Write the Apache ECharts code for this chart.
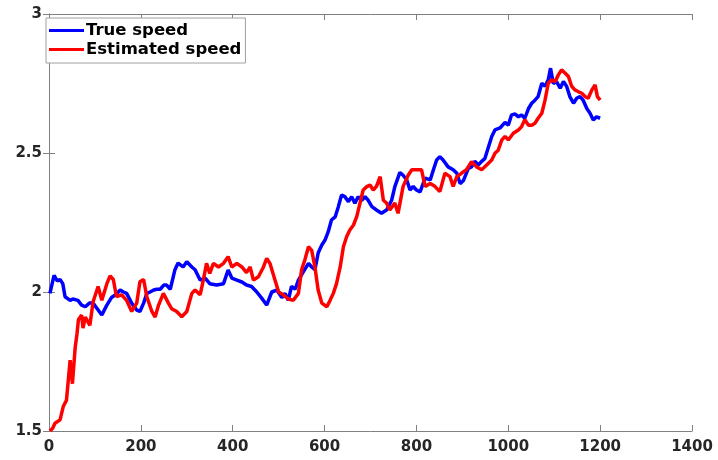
<!DOCTYPE html>
<html>
<head>
<meta charset="utf-8">
<script src="https://cdn.jsdelivr.net/npm/echarts@6/dist/echarts.min.js"></script>
<style>
  html, body { margin: 0; padding: 0; background: #fff; }
  #main { width: 718px; height: 460px; }
</style>
</head>
<body>
<div id="main"></div>
<script>
// values, x = sample index, y = speed
const trueX = [2,11,18,24,30,35,46,52,56,63,71,79,88,96,105,115,125,136,145,155,162,169,180,191,198,206,213,220,228,235,242,250,256,264,274,281,292,300,311,318,329,340,350,365,380,390,398,409,420,430,441,452,463,474,485,496,507,514,521,528,536,543,554,565,572,579,586,594,601,608,615,623,630,637,644,652,659,666,673,681,688,695,703,713,724,735,746,753,764,771,779,786,793,800,808,819,830,837,844,851,858,869,880,888,895,902,913,920,927,935,942,949,956,964,971,982,993,1000,1007,1015,1022,1029,1036,1044,1051,1058,1065,1073,1080,1087,1092,1098,1105,1113,1120,1127,1134,1142,1149,1156,1163,1171,1178,1185,1192,1200];
const trueY = [1.995,2.06,2.04,2.045,2.03,1.983,1.97,1.975,1.978,1.97,1.953,1.947,1.96,1.96,1.94,1.917,1.95,1.98,1.99,2.007,2.0,1.995,1.96,1.935,1.93,1.96,1.995,2.0,2.007,2.01,2.01,2.025,2.025,2.01,2.079,2.104,2.09,2.109,2.09,2.08,2.043,2.05,2.03,2.025,2.03,2.079,2.05,2.043,2.036,2.025,2.02,2.001,1.978,1.953,2.0,2.007,1.98,1.995,1.97,2.02,2.01,2.043,2.073,2.103,2.09,2.08,2.14,2.169,2.187,2.217,2.259,2.27,2.307,2.349,2.343,2.325,2.343,2.319,2.343,2.33,2.343,2.33,2.307,2.295,2.283,2.295,2.33,2.379,2.43,2.42,2.403,2.367,2.38,2.367,2.36,2.41,2.403,2.44,2.475,2.487,2.475,2.45,2.44,2.427,2.39,2.4,2.445,2.45,2.47,2.457,2.47,2.48,2.517,2.559,2.583,2.59,2.61,2.6,2.637,2.64,2.63,2.637,2.625,2.66,2.679,2.69,2.703,2.751,2.74,2.763,2.805,2.75,2.757,2.733,2.757,2.74,2.703,2.679,2.697,2.703,2.69,2.66,2.643,2.619,2.63,2.625];

const estX = [2,8,13,24,31,38,46,51,57,61,64,71,74,79,89,96,107,115,126,133,140,147,158,169,180,191,198,206,213,224,231,238,249,253,260,267,278,289,300,311,318,329,336,343,350,358,369,380,390,398,409,420,430,438,445,456,467,474,481,492,500,510,521,532,543,550,557,565,572,579,586,594,605,612,619,626,634,641,648,655,663,670,677,684,692,699,706,713,721,728,735,742,753,760,771,782,790,800,811,819,830,840,851,862,873,880,888,898,909,920,931,942,953,964,971,978,986,993,1000,1011,1022,1029,1036,1044,1051,1058,1065,1073,1080,1087,1094,1102,1109,1116,1124,1131,1138,1145,1152,1160,1167,1174,1182,1189,1194,1200];
const estY = [1.5,1.51,1.528,1.54,1.588,1.61,1.755,1.67,1.8,1.85,1.9,1.917,1.87,1.91,1.88,1.965,2.02,1.97,2.03,2.058,2.045,1.983,1.99,1.97,1.93,1.96,2.037,2.045,1.983,1.93,1.91,1.95,1.995,1.99,1.96,1.94,1.93,1.911,1.93,1.995,2.007,1.99,2.043,2.103,2.067,2.103,2.09,2.103,2.127,2.09,2.103,2.09,2.07,2.09,2.043,2.055,2.09,2.121,2.103,2.043,2.0,1.99,1.975,1.97,1.995,2.08,2.115,2.163,2.15,2.09,2.007,1.96,1.947,1.97,1.995,2.03,2.09,2.163,2.199,2.223,2.241,2.271,2.319,2.367,2.379,2.385,2.367,2.38,2.415,2.33,2.32,2.295,2.32,2.283,2.38,2.42,2.44,2.44,2.44,2.38,2.39,2.38,2.361,2.427,2.415,2.38,2.415,2.427,2.44,2.469,2.45,2.44,2.457,2.475,2.499,2.51,2.547,2.56,2.547,2.571,2.583,2.595,2.62,2.6,2.6,2.607,2.625,2.643,2.69,2.751,2.763,2.757,2.781,2.799,2.787,2.775,2.74,2.727,2.721,2.715,2.703,2.697,2.727,2.745,2.703,2.69];

const seriesNames = ['True speed', 'Estimated speed'];
const seriesColors = ['#0000ff', '#ff0000'];

const zip = (xs, ys) => xs.map((x, i) => [x, ys[i]]);

const axisColor = '#808080';
const labelStyle = { color: '#262626', fontFamily: 'DejaVu Sans', fontWeight: 'bold', fontSize: 15 };

const chart = echarts.init(document.getElementById('main'));
chart.setOption({
  animation: false,
  backgroundColor: '#fff',
  grid: { left: 49, right: 26, top: 14, bottom: 29, containLabel: false },
  legend: {
    orient: 'vertical',
    left: 46,
    top: 18,
    icon: 'rect',
    itemWidth: 35,
    itemHeight: 3,
    itemGap: 2,
    padding: [4, 4, 5, 3],
    backgroundColor: '#fff',
    borderColor: '#a0a0a0',
    borderWidth: 1,
    borderRadius: 0,
    textStyle: { color: '#000', fontFamily: 'DejaVu Sans', fontWeight: 'bold', fontSize: 16.5, padding: [0, 0, 0, -3] },
    data: seriesNames
  },
  xAxis: [{
    type: 'value', min: 0, max: 1400, interval: 200,
    axisLine: { lineStyle: { color: axisColor } },
    axisTick: { inside: true, length: 6, lineStyle: { color: axisColor } },
    axisLabel: Object.assign({ margin: 9, formatter: v => String(v) }, labelStyle),
    splitLine: { show: false }
  }, {
    type: 'value', position: 'top', min: 0, max: 1400, interval: 200,
    axisLine: { lineStyle: { color: axisColor } },
    axisTick: { inside: true, length: 6, lineStyle: { color: axisColor } },
    axisLabel: { show: false },
    splitLine: { show: false }
  }],
  yAxis: [{
    type: 'value', min: 1.5, max: 3, interval: 0.5,
    axisLine: { show: true, lineStyle: { color: axisColor } },
    axisTick: { show: true, inside: true, length: 6, lineStyle: { color: axisColor } },
    axisLabel: Object.assign({ margin: 7 }, labelStyle),
    splitLine: { show: false }
  }, {
    type: 'value', position: 'right', min: 1.5, max: 3, interval: 0.5,
    axisLine: { show: true, lineStyle: { color: axisColor } },
    axisTick: { show: true, inside: true, length: 6, lineStyle: { color: axisColor } },
    axisLabel: { show: false },
    splitLine: { show: false }
  }],
  series: [{
    name: seriesNames[0],
    type: 'line',
    data: zip(trueX, trueY),
    symbol: 'none',
    lineStyle: { color: seriesColors[0], width: 3.5 },
    itemStyle: { color: seriesColors[0] }
  }, {
    name: seriesNames[1],
    type: 'line',
    data: zip(estX, estY),
    symbol: 'none',
    lineStyle: { color: seriesColors[1], width: 3.5 },
    itemStyle: { color: seriesColors[1] }
  }]
});
</script>
</body>
</html>
